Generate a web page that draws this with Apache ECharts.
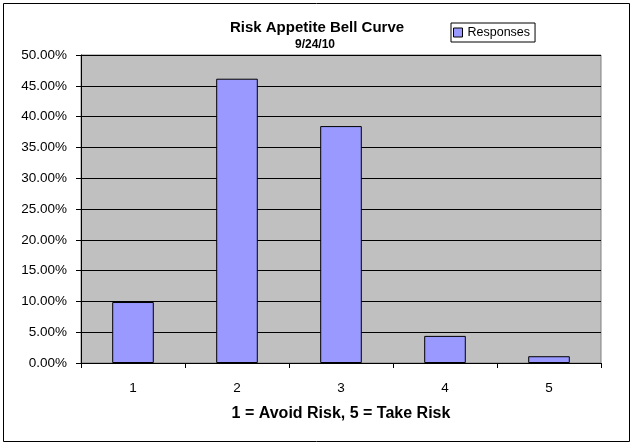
<!DOCTYPE html>
<html>
<head>
<meta charset="utf-8">
<script src="https://cdn.jsdelivr.net/npm/echarts@6/dist/echarts.min.js"></script>
<style>
html,body{margin:0;padding:0;background:#fff;}
#c{width:634px;height:448px;}
</style>
</head>
<body>
<div id="c"></div>
<script>
const categories = ['1', '2', '3', '4', '5'];
const responses = [0.099, 0.4615, 0.3846, 0.044, 0.011];
const seriesName = 'Responses';
const chartTitle = 'Risk Appetite Bell Curve';
const chartDate = '9/24/10';
const xTitle = '1 = Avoid Risk, 5 = Take Risk';

const font = '"Liberation Sans", Arial, sans-serif';
const chart = echarts.init(document.getElementById('c'));
chart.setOption({
  animation: false,
  backgroundColor: '#fff',
  textStyle: { fontFamily: font, color: '#000' },
  graphic: [
    { type: 'rect', shape: { x: 3.5, y: 3.5, width: 626, height: 438 }, style: { fill: 'none', stroke: '#000', lineWidth: 1 }, silent: true },
    { type: 'text', x: 317, y: 20, style: { text: chartTitle, font: 'bold 15px ' + font, fill: '#000', textAlign: 'center', textVerticalAlign: 'top' } },
    { type: 'text', x: 315, y: 39, style: { text: chartDate, font: 'bold 12px ' + font, fill: '#000', textAlign: 'center', textVerticalAlign: 'top' } }
  ],
  legend: {
    left: 451, top: 23,
    orient: 'horizontal',
    backgroundColor: '#fff',
    borderColor: '#000', borderWidth: 1,
    padding: [3, 5, 3, 2],
    itemWidth: 9, itemHeight: 9,
    icon: 'rect',
    itemStyle: { borderColor: '#000', borderWidth: 1 },
    textStyle: { fontSize: 12.5, fontFamily: font, color: '#000' },
    data: [seriesName]
  },
  grid: {
    left: 81, right: 33, top: 55, bottom: 85,
    show: true, backgroundColor: '#C0C0C0', borderColor: '#808080', borderWidth: 1,
    containLabel: false
  },
  xAxis: {
    type: 'category',
    data: categories,
    boundaryGap: true,
    name: xTitle,
    nameLocation: 'middle',
    nameGap: 43,
    nameTextStyle: { fontSize: 16, fontWeight: 'bold', color: '#000', fontFamily: font },
    axisLine: { lineStyle: { color: '#000', width: 1 } },
    axisTick: { show: true, alignWithLabel: false, length: 5, lineStyle: { color: '#000' } },
    axisLabel: { fontSize: 13.5, color: '#000', margin: 18, fontFamily: font },
    splitLine: { show: false }
  },
  yAxis: {
    type: 'value',
    min: 0, max: 0.5, interval: 0.05,
    axisLine: { show: true, lineStyle: { color: '#000', width: 1 } },
    axisTick: { show: true, length: 5, lineStyle: { color: '#000' } },
    axisLabel: { fontSize: 13.5, color: '#000', margin: 14, fontFamily: font,
      formatter: v => (v * 100).toFixed(2) + '%' },
    splitLine: { show: true, lineStyle: { color: '#000', width: 1 } }
  },
  series: [{
    name: seriesName,
    type: 'bar',
    data: responses,
    barCategoryGap: '60%',
    itemStyle: { color: '#9999FF', borderColor: '#000', borderWidth: 1 }
  }]
});
</script>
</body>
</html>
